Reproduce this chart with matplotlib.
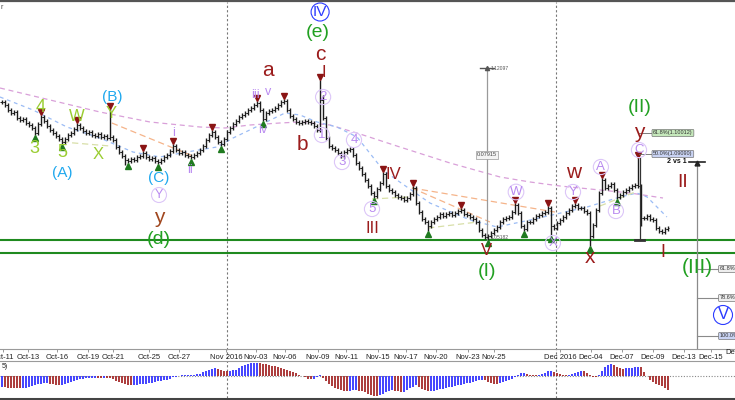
import numpy as np
import matplotlib.pyplot as plt
from matplotlib.collections import LineCollection
from matplotlib.lines import Line2D

plt.rcParams['font.family'] = ['Liberation Sans', 'DejaVu Sans']

# EURUSD 8h closes, Oct 11 - Dec 12 2016
closes = [
    1.1070, 1.1058, 1.1038, 1.1026, 1.1030, 1.1006, 1.0998, 1.1002, 1.0986, 1.0978,
    1.0966, 1.0946, 1.0982, 1.1010, 1.0994, 1.0974, 1.0958, 1.0946, 1.0934, 1.0922,
    1.0910, 1.0922, 1.0938, 1.0946, 1.0962, 1.0978, 1.0966, 1.0954, 1.0946, 1.0950,
    1.0938, 1.0934, 1.0942, 1.0930, 1.0934, 1.0926, 1.0930, 1.0918, 1.0890, 1.0870,
    1.0854, 1.0838, 1.0834, 1.0842, 1.0838, 1.0850, 1.0854, 1.0866, 1.0850, 1.0842,
    1.0846, 1.0834, 1.0830, 1.0838, 1.0850, 1.0858, 1.0874, 1.0894, 1.0878, 1.0866,
    1.0870, 1.0858, 1.0854, 1.0850, 1.0858, 1.0866, 1.0878, 1.0894, 1.0918, 1.0938,
    1.0950, 1.0930, 1.0910, 1.0902, 1.0922, 1.0950, 1.0966, 1.0982, 1.0994, 1.1010,
    1.1018, 1.1026, 1.1038, 1.1046, 1.1058, 1.1066, 1.1038, 1.1002, 1.1026, 1.1034,
    1.1038, 1.1046, 1.1058, 1.1070, 1.1074, 1.1038, 1.1014, 1.1002, 1.0990, 1.0986,
    1.0990, 1.0994, 1.0990, 1.0986, 1.0974, 1.0958, 1.1078, 1.1006, 1.0926, 1.0894,
    1.0886, 1.0878, 1.0866, 1.0854, 1.0870, 1.0878, 1.0882, 1.0858, 1.0826, 1.0806,
    1.0782, 1.0758, 1.0734, 1.0706, 1.0694, 1.0722, 1.0746, 1.0782, 1.0734, 1.0718,
    1.0710, 1.0698, 1.0690, 1.0686, 1.0678, 1.0686, 1.0702, 1.0726, 1.0666, 1.0630,
    1.0602, 1.0590, 1.0574, 1.0590, 1.0602, 1.0610, 1.0622, 1.0614, 1.0622, 1.0626,
    1.0618, 1.0626, 1.0634, 1.0638, 1.0622, 1.0618, 1.0610, 1.0602, 1.0590, 1.0558,
    1.0538, 1.0530, 1.0534, 1.0546, 1.0558, 1.0570, 1.0590, 1.0602, 1.0606, 1.0610,
    1.0630, 1.0658, 1.0626, 1.0574, 1.0562, 1.0590, 1.0590, 1.0602, 1.0614, 1.0618,
    1.0626, 1.0630, 1.0646, 1.0574, 1.0566, 1.0586, 1.0598, 1.0610, 1.0626, 1.0638,
    1.0654, 1.0658, 1.0646, 1.0646, 1.0634, 1.0626, 1.0534, 1.0578, 1.0638, 1.0706,
    1.0758, 1.0726, 1.0734, 1.0742, 1.0718, 1.0690, 1.0698, 1.0710, 1.0718, 1.0726,
    1.0734, 1.0738, 1.0734, 1.0606, 1.0606, 1.0614, 1.0602, 1.0598, 1.0566, 1.0554,
    1.0550, 1.0562, 1.0566,
]
# long wicks
high_bars = [36, 106, 107, 212]
high_vals = [1.1042, 1.1158, 1.1098, 1.0846]
low_bars = [41, 142, 162, 183, 196, 213]
low_vals = [1.0818, 1.0554, 1.0518, 1.0534, 1.0494, 1.0574]

# fractal markers
frac_up_bars = [13, 25, 36, 47, 57, 70, 85, 94, 106, 127, 137, 153, 171, 182, 191, 200, 212]
frac_dn_bars = [11, 20, 42, 52, 63, 73, 87, 124, 142, 162, 174, 183, 196, 205]

# moving averages (bar, price)
ma_slow_x = [-0.5, 16.2, 32.8, 49.5, 66.2, 74.5, 82.8, 92.8, 99.5, 109.5, 119.5, 132.8,
             149.5, 166.2, 176.2, 186.2, 199.5, 209.5, 220.5]
ma_slow_y = [1.1126, 1.1078, 1.1030, 1.0990, 1.0970, 1.0966, 1.0978, 1.0986, 1.0990, 1.0978,
             1.0942, 1.0890, 1.0826, 1.0770, 1.0750, 1.0734, 1.0718, 1.0706, 1.0686]
ma_fast_x = [-0.5, 10.5, 21.8, 32.8, 43.8, 52.8, 61.8, 71.8, 77.2, 86.2, 94.5, 99.5, 105.2,
             111.8, 118.5, 127.2, 131.8, 142.8, 156.2, 165.2, 176.2, 195.2, 206.2, 211.8,
             215.2, 221.8]
ma_fast_y = [1.1090, 1.1038, 1.0970, 1.0926, 1.0870, 1.0850, 1.0870, 1.0890, 1.0926, 1.0978,
             1.1026, 1.1018, 1.0990, 1.0970, 1.0930, 1.0798, 1.0758, 1.0666, 1.0598, 1.0570,
             1.0598, 1.0650, 1.0690, 1.0706, 1.0690, 1.0610]

# trend lines
orange_lines = [((36.8, 1.0986), (63.8, 1.0854)),
                ((136.8, 1.0726), (184.5, 1.0630)),
                ((136.8, 1.0726), (162.8, 1.0590))]
khaki_lines = [((20.2, 1.0910), (36.2, 1.0894)),
               ((123.5, 1.0682), (135.5, 1.0690)),
               ((142.2, 1.0566), (158.8, 1.0590)),
               ((199.5, 1.0654), (211.2, 1.0710))]

# oscillator histogram
osc = [
    -11.0, -11.3, -11.6, -11.8, -12.0, -12.1, -12.2, -12.1, -11.9, -11.2,
    -10.2, -9.3, -8.4, -7.6, -7.0, -6.9, -7.6, -8.3, -8.8, -9.0,
    -8.9, -8.0, -6.9, -5.6, -4.5, -3.9, -3.3, -2.8, -2.3, -2.0,
    -1.8, -1.6, -1.8, -1.9, -1.7, -1.9, -2.2, -3.4, -4.8, -6.2,
    -7.3, -8.2, -8.9, -9.0, -8.8, -8.5, -8.2, -7.9, -7.6, -7.1,
    -6.6, -6.0, -5.4, -4.9, -4.2, -3.5, -2.6, -1.4, -0.6, 0.5,
    0.8, 1.0, 1.1, 1.2, 1.3, 1.6, 2.4, 3.6, 5.0, 6.4,
    7.5, 8.0, 7.2, 6.0, 5.2, 4.9, 5.1, 5.6, 6.5, 8.0,
    9.6, 11.0, 12.0, 12.7, 13.2, 13.3, 12.6, 12.0, 11.8, 11.2,
    10.4, 9.6, 8.8, 8.0, 7.2, 6.2, 5.1, 3.9, 2.8, 1.4,
    0.0, -1.4, -2.5, -2.8, -2.6, -0.8, 0.8, -1.5, -4.5, -7.8,
    -10.4, -12.2, -13.3, -14.2, -14.8, -15.2, -14.9, -14.3, -14.0, -14.6,
    -15.3, -16.3, -17.6, -18.8, -19.6, -20.0, -19.4, -18.0, -16.2, -14.8,
    -14.2, -14.6, -15.4, -16.0, -15.6, -14.2, -12.4, -10.6, -9.4, -10.8,
    -12.8, -14.3, -15.2, -15.0, -14.6, -14.0, -13.3, -12.6, -12.0, -11.4,
    -10.8, -10.1, -9.4, -8.7, -8.1, -7.4, -6.7, -6.0, -5.2, -4.3,
    -3.6, -4.4, -5.6, -6.8, -7.8, -8.0, -7.4, -6.4, -5.3, -4.0,
    -2.5, -0.8, 1.0, 2.6, 2.8, 2.0, 1.4, 1.0, 0.9, 1.2,
    2.0, 3.2, 4.6, 4.8, 3.8, 2.6, 1.7, 1.2, 1.0, 1.5,
    2.4, 3.4, 4.3, 5.0, 4.6, 3.2, 1.4, -0.6, -1.0, 1.0,
    5.0, 9.0, 11.5, 12.4, 11.2, 9.2, 7.6, 7.2, 7.6, 8.0,
    8.4, 8.8, 9.2, 8.6, 4.0, 0.0, -3.5, -6.0, -7.6, -9.0,
    -10.3, -12.0, -13.8,
]

tick_pos = [0.5, 8.8, 18.5, 28.8, 37.2, 49.2, 59.2, 74.8, 84.8, 94.5, 105.5, 114.8,
            125.5, 134.8, 144.8, 155.5, 164.2, 186.2, 196.5, 206.8, 217.2, 227.5, 236.5]
tick_labels = ['Oct-11', 'Oct-13', 'Oct-16', 'Oct-19', 'Oct-21', 'Oct-25', 'Oct-27',
               'Nov 2016', 'Nov-03', 'Nov-06', 'Nov-09', 'Nov-11', 'Nov-15', 'Nov-17',
               'Nov-20', 'Nov-23', 'Nov-25', 'Dec 2016', 'Dec-04', 'Dec-07', 'Dec-09',
               'Dec-13', 'Dec-15']
month_lines = [75.2, 184.8]
support = [1.0518, 1.0466]

n = len(closes)
x = np.arange(n)
c = np.array(closes)
o = np.r_[c[0], c[:-1]]
highs = np.maximum(o, c) + 0.0008
lows = np.minimum(o, c) - 0.0008
highs[high_bars] = high_vals
lows[low_bars] = low_vals

fig = plt.figure(figsize=(7.35, 4.0), dpi=100)
ax = fig.add_axes([0, 0.1275, 1, 0.8675])
ax2 = fig.add_axes([0, 0.005, 1, 0.0925], sharex=ax)

XMIN, XMAX = -0.5, 244.5
ax.set_xlim(XMIN, XMAX)
ax.set_ylim(1.0082, 1.1470)

# support lines and month separators
for lvl in support:
    ax.axhline(lvl, color='#1f8a1f', lw=1.5, zorder=2)
for m in month_lines:
    ax.axvline(m, ymin=-0.04, ymax=1, color='#777777', lw=0.8, ls=(0, (2, 2)), clip_on=False, zorder=1)
    ax2.axvline(m, color='#777777', lw=0.8, ls=(0, (2, 2)), zorder=1)

# indicator lines
ax.plot(ma_slow_x, ma_slow_y, color='#d9a0d9', lw=0.9, ls=(0, (4, 3)), zorder=2)
ax.plot(ma_fast_x, ma_fast_y, color='#9bbcf5', lw=0.9, ls=(0, (3, 3)), zorder=2)
for (a, b) in orange_lines:
    ax.plot([a[0], b[0]], [a[1], b[1]], color='#f5b48a', lw=0.9, ls=(0, (5, 3)), zorder=2)
for (a, b) in khaki_lines:
    ax.plot([a[0], b[0]], [a[1], b[1]], color='#d8dfa8', lw=0.9, ls=(0, (5, 3)), zorder=2)

# OHLC bars
ax.vlines(x, lows, highs, color='#1c1c1c', lw=1.0, zorder=3)
seg_o = [[(i - 0.38, o[i]), (i, o[i])] for i in range(n)]
seg_c = [[(i, c[i]), (i + 0.38, c[i])] for i in range(n)]
ax.add_collection(LineCollection(seg_o + seg_c, colors='#1c1c1c', linewidths=0.7, zorder=3))

# fractals
ax.plot(frac_up_bars, highs[frac_up_bars] + 0.0013, 'v', color='#8a1414', ms=4.5, zorder=4)
ax.plot(frac_dn_bars, lows[frac_dn_bars] - 0.0013, '^', color='#1f7a1f', ms=4.5, zorder=4)

YG = '#9acd32'
CY = '#1fa8ee'
VI = '#b98af0'
VC = '#dcc6f8'
DR = '#9b1c1c'
GR = '#21a021'
BL = '#2b3bff'


def wave(xx, yy, s, color, size, circle=None):
    bb = None
    if circle:
        bb = dict(boxstyle='circle,pad=0.12', fc='none', ec=circle, lw=0.8)
    ax.text(xx, yy, s, color=color, fontsize=size, ha='center', va='center', bbox=bb, zorder=6)


wave(13.2, 1.1046, '4', YG, 13)
wave(10.8, 1.0882, '3', YG, 13)
wave(20.2, 1.0866, '5', YG, 13)
wave(25.2, 1.1010, 'W', YG, 12)
wave(32.2, 1.0858, 'X', YG, 12)
wave(36.5, 1.1022, 'Y', YG, 12)
wave(36.8, 1.1090, '(B)', CY, 11)
wave(20.2, 1.0786, '(A)', CY, 11)
wave(52.5, 1.0766, '(C)', CY, 11)
wave(52.5, 1.0698, 'Y', VI, 9, VC)
wave(52.5, 1.0606, 'y', '#a0461e', 15)
wave(52.5, 1.0518, '(d)', GR, 14)
wave(57.2, 1.0946, 'i', VI, 9)
wave(62.8, 1.0798, 'ii', VI, 9)
wave(84.8, 1.1098, 'iii', VI, 9)
wave(88.8, 1.1110, 'v', VI, 9)
wave(87.2, 1.0958, 'iv', VI, 9)
wave(88.8, 1.1194, 'a', DR, 15)
wave(100.2, 1.0898, 'b', DR, 15)
wave(106.2, 1.1258, 'c', DR, 15)
wave(105.5, 1.1346, '(e)', GR, 14)
wave(106.2, 1.1430, 'IV', BL, 11, BL)
wave(107.6, 1.1186, 'I', DR, 12)
wave(107.2, 1.1090, '2', VI, 9.5, VC)
wave(106.8, 1.0938, '1', VI, 9.5, VC)
wave(113.5, 1.0830, '3', VI, 9.5, VC)
wave(117.5, 1.0918, '4', VI, 9.5, VC)
wave(123.5, 1.0642, '5', VI, 9.5, VC)
wave(123.5, 1.0562, 'III', DR, 12)
wave(130.5, 1.0778, 'IV', DR, 12)
wave(161.8, 1.0474, 'V', DR, 12)
wave(161.8, 1.0390, '(I)', GR, 14)
wave(171.5, 1.0710, 'W', VI, 9.5, VC)
wave(183.8, 1.0506, 'X', VI, 9.5, VC)
wave(190.5, 1.0710, 'Y', VI, 9.5, VC)
wave(190.8, 1.0786, 'w', DR, 15)
wave(199.8, 1.0810, 'A', VI, 9.5, VC)
wave(204.8, 1.0634, 'B', VI, 9.5, VC)
wave(212.5, 1.0878, 'C', VI, 9.5, VC)
wave(212.5, 1.0946, 'y', DR, 15)
wave(212.8, 1.1046, '(II)', GR, 14)
wave(196.2, 1.0446, 'x', DR, 15)
wave(227.2, 1.0746, 'II', DR, 14)
wave(220.5, 1.0466, 'I', DR, 13)
wave(231.8, 1.0406, '(III)', GR, 15)
wave(240.5, 1.0218, 'V', BL, 12, BL)

# measuring tool at the (I) low
ax.plot([161.8, 161.8], [1.1206, 1.0518], color='#9a9a9a', lw=0.9, zorder=2)
ax.plot([159.6, 164.0], [1.1206, 1.1206], color='#555555', lw=1.0, zorder=4)
ax.plot([161.8], [1.1206], '^', color='#555555', ms=3, zorder=4)
ax.text(163.2, 1.1204, '1.12097', fontsize=3.6, color='#555555', va='center', zorder=5)
ax.text(161.8, 1.0858, '0.07915', fontsize=4, color='#444444', ha='center', va='center',
        bbox=dict(boxstyle='square,pad=0.25', fc='#f4f4f4', ec='#999999', lw=0.5), zorder=5)
ax.text(163.0, 1.0528, '1.05182', fontsize=3.6, color='#555555', va='center', zorder=5)

# drop arrow from C
ax.plot([212.8, 212.8], [1.0846, 1.0518], color='#333333', lw=0.9, zorder=4)
ax.plot([211.3, 214.3], [1.0518, 1.0518], color='#333333', lw=2.0, zorder=4)

# fib labels at C
for lvl, txt, fc in [(1.0946, '61.8%(1.10012)', '#c5e8bb'), (1.0862, '50.0%(1.09090)', '#c9d3f3')]:
    ax.plot([212.5, 217.0], [lvl, lvl], color='#666666', lw=0.6, zorder=4)
    ax.text(217.2, lvl, txt, fontsize=4, color='#333333', va='center', zorder=5,
            bbox=dict(boxstyle='round,pad=0.2', fc=fc, ec='#777777', lw=0.5))

# projection on the right
ax.plot([231.8, 231.8], [1.0830, 1.0082], color='#8a8a8a', lw=0.9, zorder=2)
ax.plot([229.2, 234.5], [1.0830, 1.0830], color='#222222', lw=1.2, zorder=4)
ax.plot([231.8], [1.0826], '^', color='#222222', ms=3.5, zorder=4)
ax.text(228.5, 1.0832, '2 vs 1', fontsize=5, color='#111111', ha='right', va='center',
        fontweight='bold', zorder=5)
for lvl, txt, fc in [(1.0402, '61.8%', '#eeeeee'), (1.0286, '78.6%', '#eeeeee'),
                     (1.0134, '100.0%', '#c9d3f3')]:
    ax.plot([231.8, 239.2], [lvl, lvl], color='#8a8a8a', lw=0.8, zorder=2)
    ax.text(239.4, lvl, txt, fontsize=4, color='#333333', va='center', zorder=5,
            bbox=dict(boxstyle='round,pad=0.2', fc=fc, ec='#777777', lw=0.5))

# axes styling
for s in ['top', 'left', 'right']:
    ax.spines[s].set_visible(False)
ax.spines['bottom'].set_color('#9a9a9a')
ax.spines['bottom'].set_linewidth(0.8)
ax.set_yticks([])
ax.set_xticks(tick_pos)
ax.set_xticklabels(tick_labels, fontsize=5.5, color='#222222')
ax.tick_params(axis='x', length=2.5, width=0.6, color='#888888', pad=1.2)
ax.text(245.5, 1.0082, 'Dec-19', fontsize=5.5, color='#222222', ha='center', va='top',
        transform=ax.transData, clip_on=False)

# oscillator: thin striped histogram, blue rising / red falling
osc = np.array(osc)
cols = ['#3434ff' if i == 0 or osc[i] >= osc[i - 1] else '#a52a2a' for i in range(n)]
ax2.axhline(0, color='#888888', lw=0.8, ls=(0, (1, 1.5)), zorder=2)
ax2.vlines(x, 0, osc, colors=cols, lw=1.3, zorder=3)
ax2.set_ylim(-22, 15)
ax2.set_yticks([])
ax2.tick_params(axis='x', length=0, labelbottom=False)
for s in ['bottom', 'left', 'right']:
    ax2.spines[s].set_visible(False)
ax2.spines['top'].set_color('#9a9a9a')
ax2.spines['top'].set_linewidth(0.8)
ax2.text(0.002, 0.86, '5)', transform=ax2.transAxes, fontsize=5, color='#222222', va='center')

# window borders
fig.add_artist(Line2D([0, 1], [0.998, 0.998], color='#555555', lw=1.6))
fig.add_artist(Line2D([0, 1], [0.003, 0.003], color='#444444', lw=2.2))
fig.text(0.001, 0.982, 'r', fontsize=5, color='#444444', va='center')

fig.savefig('out.png', dpi=100, facecolor='white')
